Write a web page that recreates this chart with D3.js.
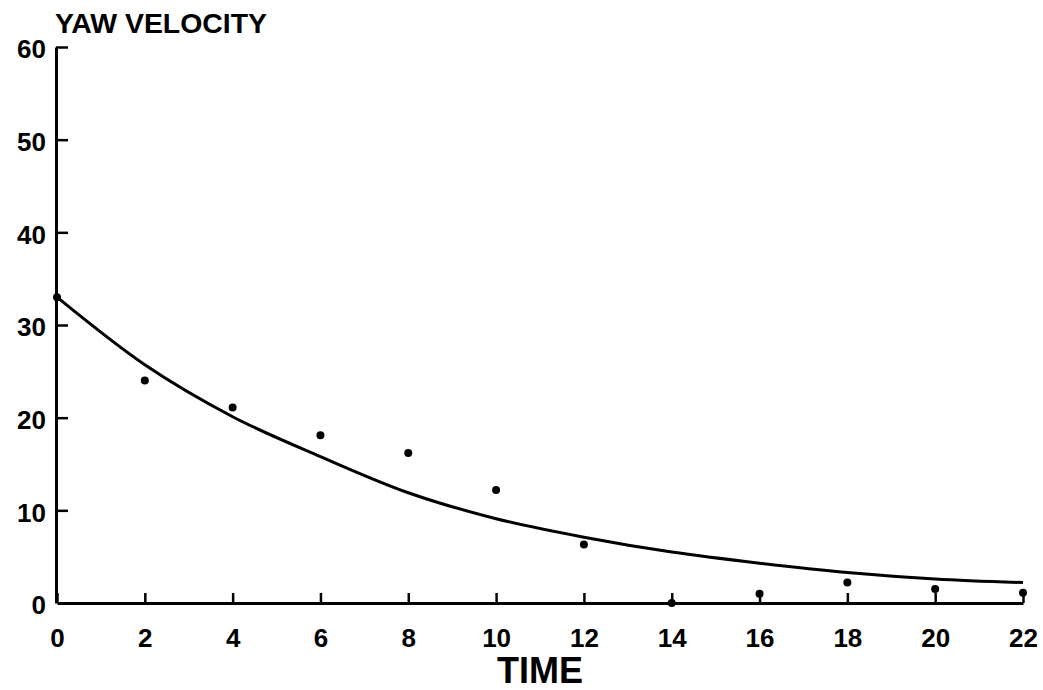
<!DOCTYPE html>
<html>
<head>
<meta charset="utf-8">
<script src="https://cdn.jsdelivr.net/npm/d3@7"></script>
<style>
  html, body { margin: 0; padding: 0; background: #fff; }
  svg text { font-family: "Liberation Sans", Arial, sans-serif; font-weight: bold; fill: #000; }
</style>
</head>
<body>
<div id="chart"></div>
<script>
var obsTime = [0, 2, 4, 6, 8, 10, 12, 14, 16, 18, 20, 22];
var obsYaw  = [33, 24, 21.1, 18.1, 16.2, 12.2, 6.3, 0, 1.0, 2.2, 1.5, 1.1];

// fitted curve, read at each tick
var fitTime = [0, 2, 4, 6, 8, 10, 12, 14, 16, 18, 20, 22];
var fitYaw  = [33, 25.7, 20.1, 15.8, 11.9, 9.1, 7.1, 5.5, 4.3, 3.3, 2.6, 2.2];

var xTicks = [0, 2, 4, 6, 8, 10, 12, 14, 16, 18, 20, 22];
var yTicks = [0, 10, 20, 30, 40, 50, 60];

var width = 1043, height = 690;

var svg = d3.select("#chart").append("svg")
    .attr("width", width)
    .attr("height", height);

// scales
var x = d3.scaleLinear().domain([0, 22]).range([57, 1023]);
var y = d3.scaleLinear().domain([0, 60]).range([603, 47]);

// x axis, ticks pointing up into the plot
var xAxis = svg.append("g")
    .attr("transform", "translate(0," + y(0) + ")")
    .call(d3.axisBottom(x).tickValues(xTicks).tickSize(-10).tickPadding(26).tickSizeOuter(0));

// y axis, ticks pointing right into the plot
var yAxis = svg.append("g")
    .attr("transform", "translate(" + (x(0) - 1) + ",0)")
    .call(d3.axisLeft(y).tickValues(yTicks).tickSize(-12).tickPadding(10).tickSizeOuter(0));

[xAxis, yAxis].forEach(function(g) {
  g.select(".domain").attr("stroke", "#000").attr("stroke-width", 3);
  g.selectAll(".tick line").attr("stroke", "#000").attr("stroke-width", 2.5);
  g.selectAll(".tick text").style("font-size", "26px").attr("fill", "#000");
});
yAxis.selectAll(".tick text").attr("dy", "0.42em");
yAxis.selectAll(".tick").filter(function(d) { return d === 0; }).select("line").remove();

// fitted curve
var line = d3.line()
    .x(function(d, i) { return x(fitTime[i]); })
    .y(function(d) { return y(d); })
    .curve(d3.curveMonotoneX);

svg.append("path")
    .datum(fitYaw)
    .attr("fill", "none")
    .attr("stroke", "#000")
    .attr("stroke-width", 3)
    .attr("d", line);

// observations
svg.append("g").selectAll("circle")
    .data(obsYaw)
    .enter().append("circle")
    .attr("cx", function(d, i) { return x(obsTime[i]); })
    .attr("cy", function(d) { return y(d); })
    .attr("r", 4)
    .attr("fill", "#000");

// titles
svg.append("text")
    .attr("x", 55)
    .attr("y", 33)
    .attr("textLength", 212)
    .attr("lengthAdjust", "spacingAndGlyphs")
    .style("font-size", "28px")
    .text("YAW VELOCITY");

svg.append("text")
    .attr("x", 540)
    .attr("y", 683)
    .attr("text-anchor", "middle")
    .style("font-size", "36px")
    .text("TIME");
</script>
</body>
</html>
